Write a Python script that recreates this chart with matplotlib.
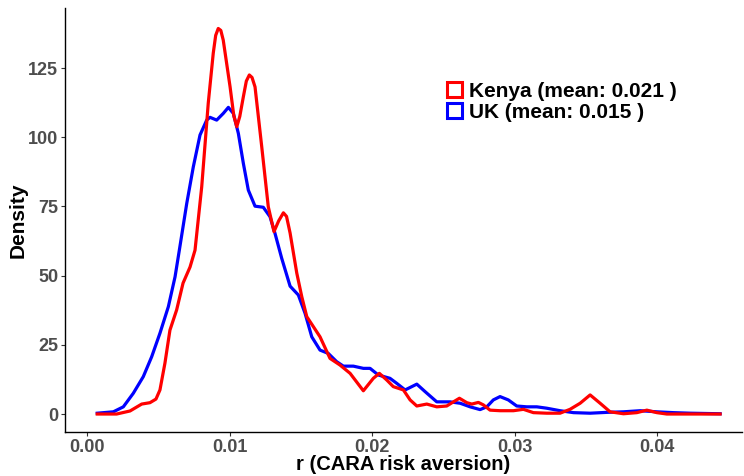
import matplotlib.pyplot as plt
from matplotlib.patches import Patch

plt.rcParams['font.family'] = ['Liberation Sans', 'DejaVu Sans']

# Kenya density curve
kenya_x = [0.00072, 0.00208, 0.00302, 0.00384, 0.00442, 0.00484, 0.00512, 0.00547,
           0.00582, 0.00629, 0.00674, 0.00723, 0.00758, 0.00805, 0.00851, 0.00886,
           0.00903, 0.00921, 0.00939, 0.00956, 0.01004, 0.01030, 0.01051, 0.01072,
           0.01097, 0.01118, 0.01139, 0.01158, 0.01179, 0.01226,
           0.01272, 0.01312, 0.01345, 0.01378, 0.01400, 0.01425, 0.01472, 0.01507,
           0.01542, 0.01635,
           0.01705, 0.01775, 0.01846, 0.01939, 0.02009, 0.02051, 0.02103, 0.02149,
           0.02220, 0.02267, 0.02314, 0.02384, 0.02454, 0.02524, 0.02571, 0.02613,
           0.02665, 0.02700, 0.02746, 0.02781, 0.02828, 0.02898, 0.02992, 0.03062,
           0.03132, 0.03226, 0.03319, 0.03389, 0.03460, 0.03530, 0.03600, 0.03670,
           0.03764, 0.03858, 0.03928, 0.03998, 0.04068, 0.04442]
kenya_y = [0.0, 0.0, 1.1, 3.6, 4.1, 5.4, 8.7, 18.4,
           30.3, 37.6, 47.3, 53.1, 59.2, 82.1, 112.4, 130.4,
           136.8, 139.3, 138.6, 135.1, 118.2, 107.8, 103.8, 107.5,
           114.6, 120.3, 122.5, 121.6, 118.2, 96.6,
           74.9, 65.9, 69.8, 72.7, 71.4, 65.4, 50.9, 42.4,
           35.2, 27.9,
           20.1, 17.7, 14.7, 8.4, 12.9, 14.7, 12.3, 9.9,
           8.7, 5.1, 2.9, 3.6, 2.6, 2.9, 4.4, 5.7,
           4.1, 3.6, 4.2, 3.3, 1.4, 1.2, 1.2, 1.7,
           0.5, 0.3, 0.3, 1.7, 3.9, 6.9, 3.9, 0.8,
           0.1, 0.5, 1.4, 0.5, 0.0, 0.0]

# UK density curve
uk_x = [0.00072, 0.00185, 0.00255, 0.00325, 0.00395, 0.00454, 0.00512, 0.00571,
        0.00618, 0.00648, 0.00700, 0.00746, 0.00793, 0.00840, 0.00863, 0.00910,
        0.00956, 0.00992, 0.01027, 0.01062, 0.01097, 0.01132, 0.01179, 0.01237,
        0.01284, 0.01319, 0.01366, 0.01425, 0.01483, 0.01530, 0.01577, 0.01635,
        0.01693, 0.01752, 0.01799, 0.01869, 0.01939, 0.01986, 0.02044, 0.02126,
        0.02173, 0.02232, 0.02314, 0.02372, 0.02454, 0.02547, 0.02618, 0.02688,
        0.02758, 0.02805, 0.02851, 0.02898, 0.02956, 0.03015, 0.03086, 0.03156,
        0.03226, 0.03319, 0.03413, 0.03530, 0.03647, 0.03764, 0.03881, 0.03998,
        0.04114, 0.04232, 0.04442]
uk_y = [0.3, 0.8, 2.6, 7.5, 13.5, 20.7, 29.2, 38.8,
        49.6, 59.2, 76.1, 89.3, 100.8, 106.2, 107.2, 106.2,
        108.6, 110.8, 108.6, 101.4, 90.6, 80.9, 75.1, 74.7,
        71.3, 65.3, 56.3, 46.2, 43.0, 36.4, 27.9, 23.1,
        21.9, 18.9, 17.3, 17.3, 16.5, 16.5, 14.1, 12.9,
        11.1, 8.7, 10.8, 8.1, 4.4, 4.4, 3.9, 2.6,
        1.6, 2.6, 5.1, 6.3, 5.1, 2.9, 2.6, 2.6,
        2.1, 1.2, 0.5, 0.3, 0.6, 0.8, 1.2, 0.8,
        0.5, 0.3, 0.1]

labels = ['Kenya (mean: 0.021 )', 'UK (mean: 0.015 )']
colors = ['#FF0000', '#0000FF']
xticks = [0.00, 0.01, 0.02, 0.03, 0.04]
yticks = [0, 25, 50, 75, 100, 125]

fig = plt.figure(figsize=(7.44, 4.76), dpi=100)
ax = fig.add_axes([0.0874, 0.0924, 0.91, 0.8908])

ax.plot(uk_x, uk_y, color=colors[1], lw=2.3, solid_joinstyle='round')
ax.plot(kenya_x, kenya_y, color=colors[0], lw=2.3, solid_joinstyle='round')

ax.set_xlim(-0.00154, 0.04596)
ax.set_ylim(-6.5, 146.7)
ax.set_xticks(xticks)
ax.set_xticklabels(['%.2f' % v for v in xticks])
ax.set_yticks(yticks)

for s in ['top', 'right']:
    ax.spines[s].set_visible(False)
for s in ['left', 'bottom']:
    ax.spines[s].set_linewidth(1.0)
    ax.spines[s].set_color('black')

ax.tick_params(axis='both', length=3, width=0.8, color='#333333',
               labelsize=13, labelcolor='#4D4D4D', pad=2)
for lab in ax.get_xticklabels() + ax.get_yticklabels():
    lab.set_fontweight('bold')

ax.set_xlabel('r (CARA risk aversion)', fontsize=14.5, fontweight='bold', labelpad=-1)
ax.set_ylabel('Density', fontsize=15, fontweight='bold', labelpad=0)

handles = [Patch(facecolor='white', edgecolor=c, lw=2.2) for c in colors]
leg = ax.legend(handles, labels, loc='upper left', bbox_to_anchor=(0.542, 0.86),
                frameon=False, prop={'weight': 'bold', 'size': 15},
                handlelength=0.75, handleheight=0.75, handletextpad=0.35,
                labelspacing=0.1, borderpad=0.2)

fig.savefig('out.png', dpi=100)
